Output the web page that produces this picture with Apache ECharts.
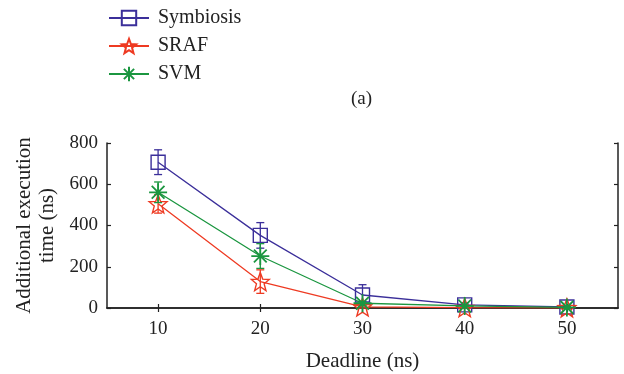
<!DOCTYPE html>
<html><head><meta charset="utf-8">
<script src="https://cdn.jsdelivr.net/npm/echarts@6/dist/echarts.min.js"></script>
<style>html,body{margin:0;padding:0;background:#fff}#c{width:624px;height:374px}</style>
</head><body><div id="c"></div>
<script>
const deadlines = [10, 20, 30, 40, 50];
const symbiosis = [707, 352, 63, 15, 5];
const symbiosisErr = [60, 62, 50, 10, 5];
const sraf = [505, 128, 5, 2, 1];
const srafErr = [45, 57, 5, 3, 3];
const svm = [561, 252, 23, 10, 3];
const svmErr = [50, 60, 8, 6, 4];
const xTicks = [10, 20, 30, 40, 50];
const yTicks = [0, 200, 400, 600, 800];

const C_SYM = '#3b2f9a', C_SRAF = '#ee3a22', C_SVM = '#1b9640';
const FONT = '"Liberation Serif", "DejaVu Serif", serif';
const STAR = 'path://M12,1 L14.9,8.6 L23,9 L16.7,14.1 L18.9,22 L12,17.5 L5.1,22 L7.3,14.1 L1,9 L9.1,8.6 Z';
const AST = 'path://M12,0 L12,24 M0,12 L24,12 M3.5,3.5 L20.5,20.5 M20.5,3.5 L3.5,20.5';

function pairs(v){ return deadlines.map((d,i)=>[d, v[i]]); }
function errData(v,e){ return deadlines.map((d,i)=>[d, v[i]-e[i], v[i]+e[i]]); }
function errSeries(v,e,color){
  return {
    type:'custom', z:3, silent:true,
    data: errData(v,e),
    renderItem: function(params, api){
      const x = api.value(0);
      const lo = api.coord([x, api.value(1)]);
      const hi = api.coord([x, api.value(2)]);
      const w = 4;
      const st = {stroke:color, lineWidth:1.3};
      return {type:'group', children:[
        {type:'line', shape:{x1:lo[0],y1:lo[1],x2:hi[0],y2:hi[1]}, style:st},
        {type:'line', shape:{x1:lo[0]-w,y1:lo[1],x2:lo[0]+w,y2:lo[1]}, style:st},
        {type:'line', shape:{x1:hi[0]-w,y1:hi[1],x2:hi[0]+w,y2:hi[1]}, style:st}
      ]};
    }
  };
}

const tickStyle = {color:'#222', width:1.2};
const chart = echarts.init(document.getElementById('c'), null, {renderer:'canvas'});
chart.setOption({
  animation:false,
  backgroundColor:'#fff',
  textStyle:{fontFamily:FONT},
  legend:{
    orient:'vertical', left:103, top:3, itemWidth:40, itemHeight:18, itemGap:8,
    textStyle:{fontFamily:FONT, fontSize:20, color:'#222', padding:[0,0,0,4]},
    data:['Symbiosis','SRAF','SVM']
  },
  graphic:[{type:'text', left:351, top:90, style:{text:'(a)', font:'19px "Liberation Serif", serif', fill:'#222'}}],
  grid:{left:107, right:6, top:143, bottom:66, outerBoundsMode:'none'},
  xAxis:[{
    type:'value', min:5, max:55, interval:5,
    axisLine:{lineStyle:{color:'#222', width:1.5}},
    axisTick:{show:true, inside:true, length:4, customValues:xTicks, lineStyle:tickStyle},
    splitLine:{show:false},
    axisLabel:{fontFamily:FONT, fontSize:19, color:'#222', margin:12, customValues:xTicks},
    name:'Deadline (ns)', nameLocation:'middle', nameGap:43,
    nameTextStyle:{fontFamily:FONT, fontSize:21, color:'#222'}
  },{
    type:'value', min:5, max:55, interval:5, position:'top',
    axisLine:{show:true, lineStyle:{color:'#222', width:1.5}},
    axisTick:{show:true, inside:true, length:4, customValues:xTicks, lineStyle:tickStyle},
    axisLabel:{show:false}, splitLine:{show:false}
  }],
  yAxis:[{
    type:'value', min:0, max:800, interval:200,
    axisLine:{show:true, lineStyle:{color:'#222', width:1.5}},
    axisTick:{show:true, inside:true, length:4, lineStyle:tickStyle},
    splitLine:{show:false},
    axisLabel:{fontFamily:FONT, fontSize:19, color:'#222', margin:9},
    name:'Additional execution\ntime (ns)', nameLocation:'middle', nameGap:48,
    nameTextStyle:{fontFamily:FONT, fontSize:21, color:'#222', lineHeight:23}
  },{
    type:'value', min:0, max:800, interval:200, position:'right',
    axisLine:{show:true, lineStyle:{color:'#222', width:1.5}},
    axisTick:{show:true, inside:true, length:4, lineStyle:tickStyle},
    axisLabel:{show:false}, splitLine:{show:false}
  }],
  series:[
    {name:'Symbiosis', type:'line', data:pairs(symbiosis), z:5,
      symbol:'rect', symbolSize:14,
      lineStyle:{color:C_SYM, width:1.3},
      itemStyle:{color:'rgba(0,0,0,0)', borderColor:C_SYM, borderWidth:1.4}},
    {name:'SRAF', type:'line', data:pairs(sraf), z:5,
      symbol:STAR, symbolSize:18,
      lineStyle:{color:C_SRAF, width:1.3},
      itemStyle:{color:'rgba(0,0,0,0)', borderColor:C_SRAF, borderWidth:1.4}},
    {name:'SVM', type:'line', data:pairs(svm), z:6,
      symbol:AST, symbolSize:18,
      lineStyle:{color:C_SVM, width:1.3},
      itemStyle:{color:'rgba(0,0,0,0)', borderColor:C_SVM, borderWidth:1.8}},
    errSeries(symbiosis, symbiosisErr, C_SYM),
    errSeries(sraf, srafErr, C_SRAF),
    errSeries(svm, svmErr, C_SVM)
  ]
});
</script></body></html>
